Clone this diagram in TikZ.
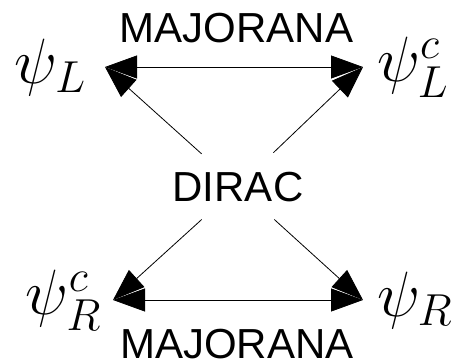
\documentclass[tikz,border=0pt]{standalone}
\usepackage{fix-cm}
\usepackage{fontspec}
\setmainfont{Liberation Sans}
\usetikzlibrary{arrows.meta}
\begin{document}
\begin{tikzpicture}[x=1pt,y=-1pt,
  lbl/.style={font=\fontsize{42}{50}\selectfont, inner sep=0pt},
  fld/.style={font=\fontsize{64}{76}\selectfont, inner ysep=0pt},
  arr/.style={line width=0.8pt, -{Triangle[length=32pt,width=23pt]}},
  darr/.style={line width=0.8pt, {Triangle[length=32pt,width=23pt]}-{Triangle[length=32pt,width=23pt]}}]
\useasboundingbox (0,0) rectangle (458,359);
\node[fld, anchor=east, inner xsep=19pt] (psiL) at (105,67) {$\psi_L$};
\node[fld, anchor=west, inner xsep=14pt] (psiLc) at (363,67) {$\psi_L^c$};
\node[fld, anchor=east, inner xsep=12pt] (psiRc) at (113,300) {$\psi_R^c$};
\node[fld, anchor=west, inner xsep=14pt] (psiR) at (363,300) {$\psi_R$};
\node[lbl, anchor=base] (majt) at (236.5,42) {MAJORANA};
\node[lbl, anchor=base] (majb) at (237,358) {MAJORANA};
\node[lbl, anchor=base] (dirac) at (238,201) {DIRAC};
\draw[darr] (psiL.east) -- (psiLc.west);
\draw[darr] (psiRc.east) -- (psiR.west);
\draw[arr, shorten <=49pt] (dirac.center) -- (psiL.east);
\draw[arr, shorten <=49pt] (dirac.center) -- (psiLc.west);
\draw[arr, shorten <=49pt] (dirac.center) -- (psiRc.east);
\draw[arr, shorten <=49pt] (dirac.center) -- (psiR.west);
\end{tikzpicture}
\end{document}
